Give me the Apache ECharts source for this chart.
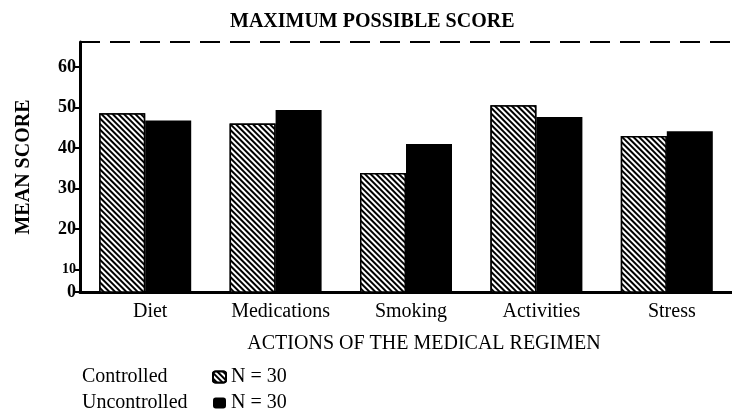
<!DOCTYPE html>
<html>
<head>
<meta charset="utf-8">
<script src="https://cdn.jsdelivr.net/npm/echarts@6/dist/echarts.min.js"></script>
<style>
  html, body { margin: 0; padding: 0; background: #fff; }
  #chart { width: 732px; height: 419px; }
</style>
</head>
<body>
<div id="chart"></div>
<script>
  var categories = ['Diet', 'Medications', 'Smoking', 'Activities', 'Stress'];
  var controlled = [48.6, 46.1, 33.9, 50.6, 43.0];
  var uncontrolled = [46.8, 49.4, 41.0, 47.7, 44.2];
  var groupNames = ['Controlled', 'Uncontrolled'];
  var groupSizes = [30, 30];
  // the axis is compressed below 10, the base is labelled 0
  var yMin = 4.5;
  var yMax = 66.2;
  var yTicks = [4.5, 10, 20, 30, 40, 50, 60];

  var serif = '"Liberation Serif", "DejaVu Serif", serif';
  var chart = echarts.init(document.getElementById('chart'));

  chart.setOption({
    animation: false,
    title: {
      text: 'MAXIMUM POSSIBLE SCORE',
      left: 225,
      top: 7,
      textStyle: { fontFamily: serif, fontSize: 20, fontWeight: 'bold', color: '#000' }
    },
    legend: [{
      orient: 'vertical',
      left: 82,
      top: 367,
      padding: 0,
      align: 'right',
      itemGap: 6,
      itemWidth: 13,
      itemHeight: 11,
      data: groupNames,
      formatter: function (name) { return '{n|' + name + '}'; },
      textStyle: {
        fontFamily: serif, fontSize: 20, color: '#000', lineHeight: 20,
        rich: { n: { width: 126, align: 'left', lineHeight: 20, fontFamily: serif, fontSize: 20, color: '#000' } }
      }
    }, {
      orient: 'vertical',
      left: 225,
      top: 367,
      padding: 0,
      itemGap: 6,
      itemWidth: 0,
      itemHeight: 0,
      selectedMode: false,
      data: groupNames,
      formatter: function (name) { return 'N = ' + groupSizes[groupNames.indexOf(name)]; },
      textStyle: { fontFamily: serif, fontSize: 20, color: '#000', lineHeight: 20 }
    }],
    grid: { left: 80, right: -9, top: 42, bottom: 127 },
    xAxis: {
      type: 'category',
      data: categories,
      axisLine: { lineStyle: { color: '#000', width: 3 } },
      axisTick: { show: false },
      axisLabel: { fontFamily: serif, fontSize: 20, color: '#000', margin: 10, padding: [0, 0, 0, 10] },
      name: 'ACTIONS OF THE MEDICAL REGIMEN',
      nameLocation: 'middle',
      nameGap: 42,
      nameTextStyle: { fontFamily: serif, fontSize: 20, color: '#000', padding: [0, 0, 0, 36] }
    },
    yAxis: {
      type: 'value',
      min: yMin,
      max: yMax,
      splitLine: { show: false },
      axisLine: { show: true, lineStyle: { color: '#000', width: 3 } },
      axisTick: { show: true, length: 5, customValues: yTicks, lineStyle: { color: '#000', width: 2 } },
      axisLabel: {
        customValues: yTicks,
        margin: 4,
        fontFamily: serif, fontSize: 18, fontWeight: 'bold', color: '#000',
        formatter: function (v) {
          if (v === yMin) return '0';
          if (v === 10) return '{s|10}';
          return v;
        },
        rich: { s: { fontFamily: serif, fontSize: 14, fontWeight: 'bold', color: '#000' } }
      },
      name: 'MEAN SCORE',
      nameLocation: 'middle',
      nameGap: 46,
      nameTextStyle: { fontFamily: serif, fontSize: 20, fontWeight: 'bold', color: '#000' }
    },
    series: [{
      name: groupNames[0],
      type: 'bar',
      data: controlled,
      barWidth: 46,
      barGap: '0%',
      itemStyle: {
        color: '#fff',
        borderColor: '#000',
        borderWidth: 1.5,
        decal: {
          symbol: 'rect',
          symbolSize: 1,
          dashArrayX: [1, 0],
          dashArrayY: [2, 2],
          rotation: Math.PI / 4,
          color: '#000',
          backgroundColor: '#fff'
        }
      },
      markLine: {
        silent: true,
        symbol: ['none', 'none'],
        label: { show: false },
        lineStyle: { color: '#000', width: 2, type: [20, 10] },
        data: [{ yAxis: yMax }]
      }
    }, {
      name: groupNames[1],
      type: 'bar',
      data: uncontrolled,
      barWidth: 46,
      itemStyle: { color: '#000' }
    }]
  });
</script>
</body>
</html>
